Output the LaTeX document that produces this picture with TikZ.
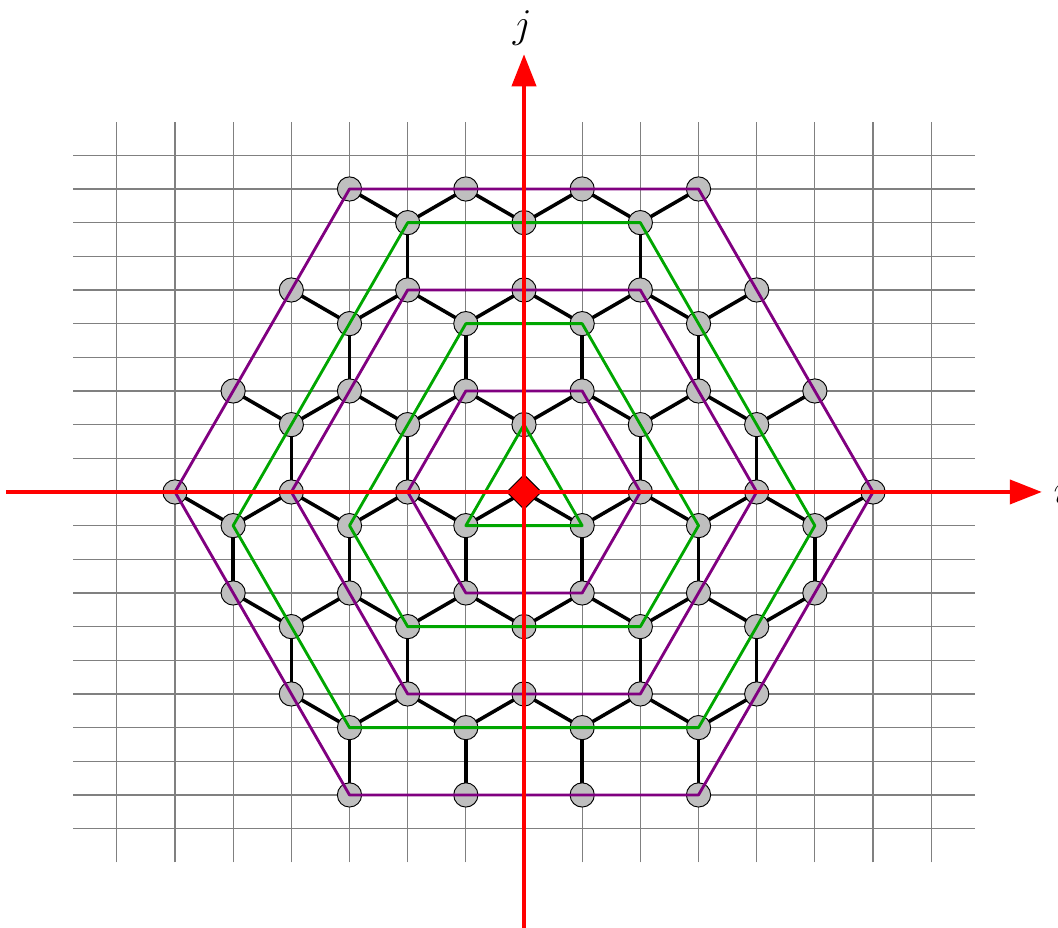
\documentclass[tikz,border=0pt]{standalone}
\usetikzlibrary{arrows.meta,shapes.geometric}
\pgfdeclarelayer{bg}
\pgfdeclarelayer{fg}
\pgfdeclarelayer{top}
\pgfsetlayers{bg,main,fg,top}
\definecolor{hexgreen}{rgb}{0,0.65,0}
\definecolor{hexpurple}{rgb}{0.5,0,0.5}
\tikzset{
 gridline/.style={draw=gray, line width=0.5pt},
 bond/.style={draw=black, line width=1.5pt},
 vtx/.style={circle, draw=black, line width=0.4pt, fill=lightgray, minimum size=0.36cm, inner sep=0pt},
 originnode/.style={diamond, draw=black, line width=0.4pt, fill=red, minimum size=0.52cm, inner sep=0pt},
 ringg/.style={draw=hexgreen, line width=1.2pt, line join=round},
 ringp/.style={draw=hexpurple, line width=1.2pt, line join=round},
 axisline/.style={draw=red, line width=1.4pt, -{Triangle[length=0.475cm,width=0.36cm]}},
 lbl/.style={font=\LARGE, inner sep=0pt}
}
\begin{document}
\begin{tikzpicture}[x=0.864cm, y=0.5cm]
\useasboundingbox (-7.783cm,-6.476cm) rectangle (7.931cm,7.307cm);
% vertices
\foreach \j/\is in {9/{-3,-1,1,3}, 8/{-2,0,2}, 6/{-4,-2,0,2,4}, 5/{-3,-1,1,3},
  3/{-5,-3,-1,1,3,5}, 2/{-4,-2,0,2,4}, 0/{-6,-4,-2,2,4,6}, -1/{-5,-3,-1,1,3,5},
  -3/{-5,-3,-1,1,3,5}, -4/{-4,-2,0,2,4}, -6/{-4,-2,0,2,4}, -7/{-3,-1,1,3}, -9/{-3,-1,1,3}}
 {\foreach \i in \is {\node[vtx] (p\i_\j) at (\i,\j) {};}}
\begin{pgfonlayer}{top}
\node[originnode] (p0_0) at (0,0) {};
\end{pgfonlayer}
% grid and bonds
\begin{pgfonlayer}{bg}
\foreach \i in {-7,...,7} \draw[gridline] (\i,-11) -- (\i,11);
\foreach \j in {-10,...,10} \draw[gridline] (-7.75,\j) -- (7.75,\j);
\foreach \a/\b/\c/\d in {
 -3/9/-2/8, -1/9/-2/8, -1/9/0/8, 1/9/0/8, 1/9/2/8, 3/9/2/8,
 -2/8/-2/6, 0/8/0/6, 2/8/2/6,
 -4/6/-3/5, -2/6/-3/5, -2/6/-1/5, 0/6/-1/5, 0/6/1/5, 2/6/1/5, 2/6/3/5, 4/6/3/5,
 -3/5/-3/3, -1/5/-1/3, 1/5/1/3, 3/5/3/3,
 -5/3/-4/2, -3/3/-4/2, -3/3/-2/2, -1/3/-2/2, -1/3/0/2, 1/3/0/2, 1/3/2/2, 3/3/2/2, 3/3/4/2, 5/3/4/2,
 -4/2/-4/0, -2/2/-2/0, 0/2/0/0, 2/2/2/0, 4/2/4/0,
 -6/0/-5/-1, -4/0/-5/-1, -4/0/-3/-1, -2/0/-3/-1, -2/0/-1/-1, 0/0/-1/-1, 0/0/1/-1, 2/0/1/-1, 2/0/3/-1, 4/0/3/-1, 4/0/5/-1, 6/0/5/-1,
 -5/-1/-5/-3, -3/-1/-3/-3, -1/-1/-1/-3, 1/-1/1/-3, 3/-1/3/-3, 5/-1/5/-3,
 -5/-3/-4/-4, -3/-3/-4/-4, -3/-3/-2/-4, -1/-3/-2/-4, -1/-3/0/-4, 1/-3/0/-4, 1/-3/2/-4, 3/-3/2/-4, 3/-3/4/-4, 5/-3/4/-4,
 -4/-4/-4/-6, -2/-4/-2/-6, 0/-4/0/-6, 2/-4/2/-6, 4/-4/4/-6,
 -4/-6/-3/-7, -2/-6/-3/-7, -2/-6/-1/-7, 0/-6/-1/-7, 0/-6/1/-7, 2/-6/1/-7, 2/-6/3/-7, 4/-6/3/-7,
 -3/-7/-3/-9, -1/-7/-1/-9, 1/-7/1/-9, 3/-7/3/-9}
 {\draw[bond] (p\a_\b.center) -- (p\c_\d.center);}
\end{pgfonlayer}
% rings
\begin{pgfonlayer}{fg}
\draw[ringg] (p0_2.center) -- (p-1_-1.center) -- (p1_-1.center) -- cycle;
\draw[ringg] (p-1_5.center) -- (p1_5.center) -- (p3_-1.center) -- (p2_-4.center) -- (p-2_-4.center) -- (p-3_-1.center) -- cycle;
\draw[ringg] (p-2_8.center) -- (p2_8.center) -- (p5_-1.center) -- (p3_-7.center) -- (p-3_-7.center) -- (p-5_-1.center) -- cycle;
\draw[ringp] (p-1_3.center) -- (p1_3.center) -- (p2_0.center) -- (p1_-3.center) -- (p-1_-3.center) -- (p-2_0.center) -- cycle;
\draw[ringp] (p-2_6.center) -- (p2_6.center) -- (p4_0.center) -- (p2_-6.center) -- (p-2_-6.center) -- (p-4_0.center) -- cycle;
\draw[ringp] (p-3_9.center) -- (p3_9.center) -- (p6_0.center) -- (p3_-9.center) -- (p-3_-9.center) -- (p-6_0.center) -- cycle;
\end{pgfonlayer}
% axes
\begin{pgfonlayer}{top}
\coordinate (xs) at (-8.9,0);
\coordinate (xe) at (8.9,0);
\coordinate (ys) at (0,-13.2);
\coordinate (ye) at (0,13);
\draw[axisline] (xs) -- (xe);
\draw[axisline] (ys) -- (ye);
\node[lbl] (li) at (9.22,0.05) {$i$};
\node[lbl] (lj) at (-0.03,13.79) {$j$};
\end{pgfonlayer}
\end{tikzpicture}
\end{document}
